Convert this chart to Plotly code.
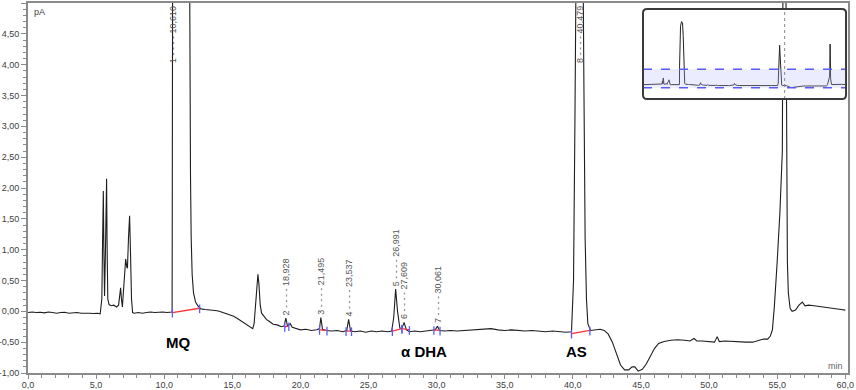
import plotly.graph_objects as go

# ---------------- data ----------------
time_min = [
    0.0, 0.3, 0.6, 0.9, 1.2, 1.5, 1.8, 2.1, 2.4, 2.7, 3.0, 3.3, 3.6, 3.9, 4.2, 4.5, 4.8, 5.1, 5.3,
    5.42, 5.48, 5.53, 5.57, 5.62, 5.68, 5.73, 5.77, 5.81, 5.86, 5.95, 6.1, 6.3, 6.5, 6.65, 6.75, 6.8,
    6.86, 6.93, 7.0, 7.1, 7.17, 7.25, 7.3, 7.38, 7.46, 7.53, 7.6, 7.68, 7.8, 8.1, 8.4, 8.7, 9.0, 9.3,
    9.6, 9.9, 10.2, 10.5, 10.58, 10.62, 10.7, 10.9, 11.2, 11.5, 11.7, 11.82, 11.88, 11.93, 11.98,
    12.05, 12.15, 12.3, 12.5, 12.7, 13.0, 13.3, 13.6, 13.9, 14.2, 14.5, 14.8, 15.1, 15.4, 15.7, 16.0,
    16.3, 16.5, 16.6, 16.72, 16.82, 16.88, 16.95, 17.05, 17.15, 17.3, 17.5, 17.75, 18.0, 18.3, 18.6,
    18.8, 18.93, 19.05, 19.25, 19.4, 19.7, 20.0, 20.4, 20.8, 21.2, 21.4, 21.5, 21.62, 21.9, 22.3,
    22.7, 23.1, 23.4, 23.54, 23.68, 24.0, 24.4, 24.8, 25.2, 25.6, 26.0, 26.4, 26.7, 26.85, 26.99,
    27.13, 27.3, 27.45, 27.61, 27.78, 28.0, 28.4, 28.8, 29.2, 29.6, 29.9, 30.06, 30.22, 30.6, 31.0,
    31.5, 32.0, 32.5, 33.0, 33.5, 34.0, 34.5, 35.0, 35.5, 36.0, 36.5, 37.0, 37.5, 38.0, 38.5, 39.0,
    39.5, 39.9, 40.05, 40.15, 40.3, 40.48, 40.65, 40.8, 40.9, 41.0, 41.1, 41.3, 41.6, 42.0, 42.3,
    42.6, 42.9, 43.2, 43.5, 43.8, 44.1, 44.35, 44.55, 44.8, 45.1, 45.4, 45.7, 46.0, 46.3, 46.7, 47.2,
    47.7, 48.2, 48.6, 48.9, 49.1, 49.5, 50.0, 50.4, 50.6, 50.75, 51.2, 51.7, 52.2, 52.7, 53.2, 53.6,
    54.0, 54.3, 54.5, 54.65, 54.8, 55.0, 55.2, 55.38, 55.47, 55.55, 55.65, 55.7, 55.75, 55.82, 55.95,
    56.1, 56.35, 56.6, 56.85, 57.05, 57.3, 57.7, 58.1, 58.5, 58.9, 59.3, 59.7, 60.0,
]
signal_pA = [
    -0.02, -0.01, -0.02, -0.015, -0.025, -0.01, -0.02, -0.03, -0.02, -0.015, -0.03, -0.025, -0.02,
    -0.03, -0.025, -0.03, -0.035, -0.03, -0.04,
    0.2, 1.2, 1.95, 1.0, 0.25, 0.9, 2.0, 2.15, 1.0, 0.2, 0.11, 0.09, 0.1, 0.07, 0.1, 0.3, 0.38,
    0.2, 0.07, 0.3, 0.75, 0.85, 0.72, 0.7, 1.2, 1.55, 0.9, 0.2, -0.02, -0.03, -0.02, -0.03, -0.02,
    -0.01, -0.02, -0.015, -0.01, -0.02, -0.015, -0.01, 6.0, 14.0, 19.0, 20.5, 20.0, 16.0, 8.0, 4.0,
    2.2, 1.2, 0.6, 0.3, 0.15, 0.08, 0.04, 0.03, 0.025, 0.01, 0.01, -0.01, -0.03, -0.05, -0.08, -0.12,
    -0.16, -0.2, -0.25, -0.28, -0.2, 0.2, 0.55, 0.6, 0.45, 0.1, -0.03, -0.08, -0.13, -0.17, -0.21,
    -0.22, -0.25, -0.24, -0.11, -0.24, -0.2, -0.26, -0.28, -0.3, -0.29, -0.31, -0.3, -0.28, -0.1,
    -0.29, -0.31, -0.32, -0.31, -0.33, -0.31, -0.13, -0.32, -0.33, -0.32, -0.34, -0.32, -0.33, -0.32,
    -0.33, -0.32, -0.1, 0.36, 0.0, -0.27, -0.28, -0.18, -0.3, -0.33, -0.32, -0.33, -0.32, -0.31,
    -0.3, -0.24, -0.31, -0.32, -0.31, -0.32, -0.31, -0.3, -0.3, -0.29, -0.28, -0.3, -0.31, -0.3,
    -0.31, -0.32, -0.31, -0.32, -0.33, -0.32, -0.33, -0.34, -0.33, 0.5, 3.0, 9.0, 12.8, 9.0, 4.0,
    1.2, 0.2, -0.2, -0.31, -0.3, -0.29, -0.31, -0.37, -0.5, -0.7, -0.87, -0.95, -0.95, -0.9, -0.9,
    -0.97, -0.94, -0.85, -0.72, -0.6, -0.52, -0.49, -0.47, -0.46, -0.47, -0.48, -0.44, -0.48, -0.48,
    -0.49, -0.5, -0.41, -0.49, -0.48, -0.49, -0.5, -0.5, -0.5, -0.48, -0.45, -0.45, -0.4, -0.3, 0.1,
    0.8, 1.6, 2.6, 5.0, 13.2, 5.0, 2.0, 0.8, 0.3, 0.05, 0.0, 0.02, 0.1, 0.15, 0.09, 0.1, 0.09, 0.08,
    0.07, 0.06, 0.04, 0.03, 0.02,
]

peak_ids = [1, 2, 3, 4, 5, 6, 7, 8]
peak_rt = [10.610, 18.928, 21.495, 23.537, 26.991, 27.609, 30.061, 40.479]
int_start = [10.60, 18.85, 21.40, 23.35, 26.75, 27.45, 29.80, 39.90]
int_end = [12.60, 19.15, 21.95, 23.75, 27.45, 28.00, 30.25, 41.25]
base_start = [-0.02, -0.25, -0.30, -0.32, -0.32, -0.28, -0.30, -0.36]
base_end = [0.05, -0.24, -0.31, -0.32, -0.28, -0.30, -0.31, -0.31]

compound_names = ["MQ", "α DHA", "AS"]

x_tick_vals = [0, 5, 10, 15, 20, 25, 30, 35, 40, 45, 50, 55, 60]
x_tick_text = ["0,0", "5,0", "10,0", "15,0", "20,0", "25,0", "30,0", "35,0", "40,0",
               "45,0", "50,0", "55,0", "60,0"]
y_tick_vals = [-1.0, -0.5, 0.0, 0.5, 1.0, 1.5, 2.0, 2.5, 3.0, 3.5, 4.0, 4.5, 5.0]
y_tick_text = ["-1,00", "-0,50", "0,00", "0,50", "1,00", "1,50", "2,00", "2,50", "3,00",
               "3,50", "4,00", "4,50", "5,00"]

# ---------------- figure ----------------
AX = "#8a8a8a"
FONT = "Arial, Liberation Sans, sans-serif"
fig = go.Figure()

fig.add_trace(go.Scatter(x=time_min, y=signal_pA, mode="lines",
                         line=dict(color="#1e1e1e", width=1.1), xaxis="x", yaxis="y",
                         hoverinfo="skip", showlegend=False))

# integration baselines (red) and delimiters (blue)
rx, ry, bx, by = [], [], [], []
for s, e, bs, be in zip(int_start, int_end, base_start, base_end):
    rx += [s, e, None]
    ry += [bs, be, None]
    bx += [s, s, None, e, e, None]
    by += [bs - 0.08, bs + 0.06, None, be - 0.08, be + 0.06, None]
fig.add_trace(go.Scatter(x=rx, y=ry, mode="lines", line=dict(color="#ff3030", width=1.3),
                         showlegend=False, hoverinfo="skip"))
fig.add_trace(go.Scatter(x=bx, y=by, mode="lines", line=dict(color="#5a5aff", width=1.3),
                         showlegend=False, hoverinfo="skip"))

# inset overview
fig.add_trace(go.Scatter(x=time_min, y=signal_pA, mode="lines",
                         line=dict(color="#222222", width=1), xaxis="x2", yaxis="y2",
                         showlegend=False, hoverinfo="skip"))

annotations = []
# peak labels
for pid, rt in zip(peak_ids, peak_rt):
    apex = max(v for t, v in zip(time_min, signal_pA) if abs(t - rt) <= 0.2)
    txt = f"{pid} - - - - {rt:.3f}".replace(".", ",")
    if apex >= 5:
        annotations.append(dict(x=rt, y=5, xref="x", yref="y", text=txt, textangle=-90,
                                showarrow=False, xanchor="center", yanchor="top", yshift=-1,
                                font=dict(family=FONT, size=9, color="#555555")))
    else:
        annotations.append(dict(x=rt, y=apex, xref="x", yref="y", text=txt, textangle=-90,
                                showarrow=False, xanchor="center", yanchor="bottom", yshift=1,
                                font=dict(family=FONT, size=9, color="#555555")))

name_pos = [(11.0, -0.5), (29.1, -0.65), (40.3, -0.65)]
for name, (nx, ny) in zip(compound_names, name_pos):
    annotations.append(dict(x=nx, y=ny, xref="x", yref="y", text=f"<b>{name}</b>",
                            showarrow=False, font=dict(family=FONT, size=15, color="#000000")))

annotations.append(dict(x=0.005, y=0.976, xref="paper", yref="paper", text="pA",
                        showarrow=False, xanchor="left", yanchor="middle",
                        font=dict(family=FONT, size=9, color="#444444")))
annotations.append(dict(x=0.996, y=0.02, xref="paper", yref="paper", text="min",
                        showarrow=False, xanchor="right", yanchor="middle",
                        font=dict(family=FONT, size=9, color="#666666")))

# inset box (rounded) and band
x0, x1, y0, y1 = 0.750, 0.9976, 0.7405, 0.9838
rxp, ryp = 0.005, 0.011
box_path = (f"M {x0+rxp},{y0} L {x1-rxp},{y0} Q {x1},{y0} {x1},{y0+ryp} L {x1},{y1-ryp} "
            f"Q {x1},{y1} {x1-rxp},{y1} L {x0+rxp},{y1} Q {x0},{y1} {x0},{y1-ryp} "
            f"L {x0},{y0+ryp} Q {x0},{y0} {x0+rxp},{y0} Z")
shapes = [
    dict(type="rect", xref="x2 domain", x0=0, x1=1, yref="y2", y0=-1, y1=5,
         fillcolor="rgba(185,185,255,0.28)", line=dict(width=0), layer="above"),
    dict(type="line", xref="x2 domain", x0=0, x1=1, yref="y2", y0=-1, y1=-1,
         line=dict(color="#5a5aff", width=1.5, dash="dash"), layer="above"),
    dict(type="line", xref="x2 domain", x0=0, x1=1, yref="y2", y0=5, y1=5,
         line=dict(color="#5a5aff", width=1.5, dash="dash"), layer="above"),
    dict(type="line", xref="x", x0=55.55, x1=55.55, yref="paper", y0=y0, y1=y1,
         line=dict(color="#888888", width=1, dash="dot"), layer="above"),
    dict(type="path", xref="paper", yref="paper", path=box_path,
         line=dict(color="#3a3a3a", width=2), layer="above"),
]

fig.update_layout(
    width=856, height=390,
    margin=dict(l=28, r=8, t=3, b=17, autoexpand=False),
    paper_bgcolor="white", plot_bgcolor="white",
    showlegend=False,
    xaxis=dict(range=[0, 60.2], domain=[0, 1], anchor="y", showline=True, linecolor=AX,
               linewidth=2, mirror=True, ticks="outside", ticklen=4, tickwidth=1,
               tickcolor=AX, tickmode="array", tickvals=x_tick_vals, ticktext=x_tick_text,
               tickfont=dict(family=FONT, size=9, color="#404040"), ticklabelstandoff=-2,
               minor=dict(ticks="outside", ticklen=3, tickcolor=AX, tickmode="linear",
                          tick0=0, dtick=1),
               showgrid=False, zeroline=False, automargin=False),
    yaxis=dict(range=[-1, 5], domain=[0, 1], anchor="x", showline=True, linecolor=AX,
               linewidth=2, mirror=True, ticks="outside", ticklen=5, tickwidth=1,
               tickcolor=AX, tickmode="array", tickvals=y_tick_vals, ticktext=y_tick_text,
               tickfont=dict(family=FONT, size=9, color="#404040"),
               minor=dict(ticks="outside", ticklen=3, tickcolor=AX, tickmode="linear",
                          tick0=0, dtick=0.1),
               showgrid=False, zeroline=False, automargin=False),
    xaxis2=dict(domain=[x0, x1], range=[-0.3, 60.3], anchor="y2", visible=False,
                showgrid=False, zeroline=False),
    yaxis2=dict(domain=[y0, y1], range=[-4.7, 24.6], anchor="x2", visible=False,
                showgrid=False, zeroline=False),
    annotations=annotations,
    shapes=shapes,
)

fig.write_html("out.html", config={"displayModeBar": False},
               post_script="document.body.style.margin='0';document.body.style.overflow='hidden';")
